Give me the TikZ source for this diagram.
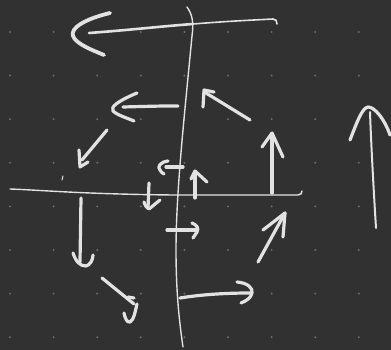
\documentclass[tikz,border=0pt]{standalone}
\usepackage{tikz}
\usetikzlibrary{arrows.meta}
\definecolor{boardbg}{HTML}{313131}
\definecolor{chalk}{HTML}{E2E2E2}
\definecolor{griddot}{HTML}{6C6C6C}

\begin{document}
\begin{tikzpicture}[
    x=1pt,
    y=-1pt,
    axisline/.style={
        chalk,
        line width=1.4pt,
        line cap=round,
        line join=round
    },
    chalkstroke/.style={
        chalk,
        line width=3.2pt,
        line cap=round,
        line join=round
    }
]

% Board background
\fill[boardbg] (0,0) rectangle (391,350);
\useasboundingbox (0,0) rectangle (391,350);

% =========================
% DOT GRID
% =========================
\foreach \i in {0,...,8}{
    \foreach \j in {0,...,7}{
        \fill[griddot] ({10+43.6*\i},{32+43.6*\j}) circle (1.1pt);
    }
}

% =========================
% AXES
% =========================
\draw[axisline]
(187,7)
.. controls (192,14) and (194,22) ..
(192,36)
.. controls (185,110) and (176,190) ..
(176,250)
.. controls (176,290) and (179,320) ..
(183,347);

\draw[axisline]
(10,189)
.. controls (40,190) and (80,194) ..
(173,195)
-- (298,195)
.. controls (301,195) and (302,193) ..
(302,191);

% =========================
% TOP ARROW
% =========================
\draw[
    chalkstroke,
    line width=2.6pt
]
(89,33)
.. controls (130,30) and (165,26) ..
(193,24);

\draw[
    chalkstroke,
    line width=1.6pt
]
(193,24)
.. controls (230,21) and (255,20) ..
(273,19)
.. controls (276,19) and (277,21) ..
(277,24);

\draw[
    chalkstroke,
    line width=3.8pt
]
(110,13)
.. controls (85,19) and (70,28) ..
(73,36)
.. controls (76,44) and (92,50) ..
(104,55);

% =========================
% UPPER HALF
% =========================
% left arrow
\draw[chalkstroke]
(178,106)
.. controls (160,106) ..
(123,107);
\draw[chalkstroke]
(137,93)
.. controls (118,101) and (110,107) ..
(113,111)
.. controls (117,115) and (127,118) ..
(134,121);

% up-left arrow
\draw[chalkstroke] (250,120) -- (206,93);
\draw[chalkstroke] (203,107) -- (204,90) -- (214,92);

% down-left arrow
\draw[chalkstroke] (107,130) -- (82,160);
\draw[chalkstroke] (79,150) -- (80,167) -- (88,162);

% up arrow on the axis
\draw[chalkstroke] (272,193) -- (272,134);
\draw[chalkstroke] (262,147) -- (272,133) -- (283,157);

% far right arrow
\draw[
    chalkstroke,
    line width=2pt
]
(376,228)
.. controls (373,180) and (371,140) ..
(370,112);
\draw[chalkstroke]
(350,140)
.. controls (357,122) and (362,108) ..
(368,107)
.. controls (375,107) and (385,120) ..
(390,135);

% =========================
% NEAR THE ORIGIN
% =========================
\draw[chalkstroke] (183,167) -- (166,167);
\draw[chalkstroke]
(168,161)
.. controls (160,162) and (157,167) ..
(160,170)
.. controls (161,172) and (162,173) ..
(164,174);

\draw[chalkstroke] (195,198) -- (195,173);
\draw[chalkstroke] (191,179) -- (195,171) -- (207,182);

\draw[chalkstroke] (149,183) -- (148,208);
\draw[chalkstroke]
(144,202)
.. controls (146,207) ..
(149,209)
-- (160,200);

\draw[chalkstroke] (167,230) -- (197,230);
\draw[chalkstroke]
(192,223)
.. controls (197,225) and (199,228) ..
(197,232)
-- (193,238);

% stray tick
\draw[
    chalkstroke,
    line width=1pt
]
(63,176) -- (62,180);

% =========================
% LOWER HALF
% =========================
% down arrow
\draw[chalkstroke] (81,198) -- (80,262);
\draw[chalkstroke]
(73,253)
.. controls (76,262) and (80,266) ..
(86,266)
.. controls (90,265) and (93,260) ..
(93,255);

% up-right arrow
\draw[chalkstroke] (258,262) -- (285,213);
\draw[chalkstroke] (263,230) -- (285,213) -- (283,237);

% down-right arrow
\draw[chalkstroke] (102,278) -- (134,304);
\draw[chalkstroke] (128,297) -- (134,298);
\draw[chalkstroke]
(137,304)
.. controls (135,312) and (134,320) ..
(130,322)
.. controls (127,323) and (125,318) ..
(124,313);

% right arrow
\draw[chalkstroke]
(180,298)
.. controls (205,294) and (230,293) ..
(250,293);
\draw[chalkstroke]
(237,282)
.. controls (248,283) and (253,288) ..
(252,293)
.. controls (251,298) and (246,301) ..
(241,303);

\end{tikzpicture}
\end{document}
